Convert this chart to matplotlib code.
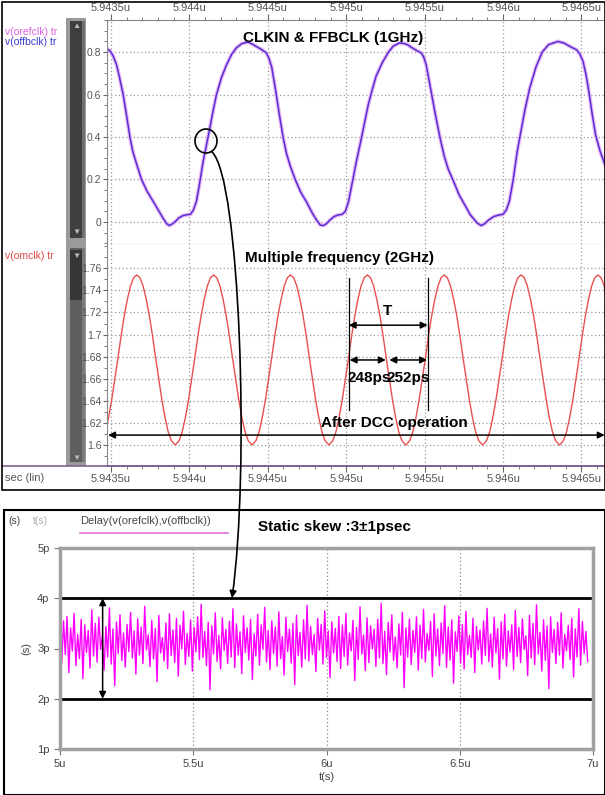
import numpy as np
import matplotlib
matplotlib.use('Agg')
import matplotlib.pyplot as plt
import matplotlib.font_manager as fm
from matplotlib.patches import Rectangle, Ellipse, FancyArrowPatch
from matplotlib.path import Path
from matplotlib.ticker import MultipleLocator

# fonts
names = {f.name for f in fm.fontManager.ttflist}
BOLD_FONT = 'Liberation Sans Narrow' if 'Liberation Sans Narrow' in names else 'Liberation Sans'
plt.rcParams['font.family'] = ['Liberation Sans', 'DejaVu Sans']

# ---- data: top panel (time in ns after 5.9435u) ----
x_ticks = [0.0, 0.5, 1.0, 1.5, 2.0, 2.5, 3.0]
x_labels = ['5.9435u', '5.944u', '5.9445u', '5.945u', '5.9455u', '5.946u', '5.9465u']

clk_t = [-0.025, -0.010, 0.000, 0.015, 0.036, 0.055, 0.078, 0.100, 0.121, 0.140,
         0.165, 0.195, 0.230, 0.270, 0.305, 0.333, 0.355, 0.372, 0.390, 0.408,
         0.435, 0.460, 0.485, 0.507, 0.525, 0.545, 0.565, 0.588, 0.610, 0.630,
         0.652, 0.673, 0.705, 0.737, 0.770, 0.800, 0.835, 0.874, 0.900, 0.930,
         0.960, 0.990, 1.005, 1.025, 1.050, 1.075, 1.100, 1.120, 1.145, 1.175,
         1.210, 1.250, 1.285, 1.310, 1.335, 1.355, 1.375, 1.395, 1.420, 1.445,
         1.475, 1.495, 1.515, 1.540, 1.565, 1.590, 1.615, 1.640, 1.665, 1.690,
         1.730, 1.770, 1.800, 1.840, 1.870, 1.890, 1.920, 1.950, 1.980, 1.995,
         2.010, 2.040, 2.070, 2.100, 2.125, 2.150, 2.185, 2.220, 2.260, 2.290,
         2.310, 2.335, 2.360, 2.380, 2.410, 2.440, 2.470, 2.500, 2.520, 2.540,
         2.565, 2.590, 2.610, 2.640, 2.670, 2.710, 2.750, 2.790, 2.850, 2.890,
         2.930, 2.970, 2.990, 3.010, 3.030, 3.050, 3.070, 3.090, 3.120, 3.150]
orefclk_v = [0.815, 0.808, 0.800, 0.780, 0.740, 0.680, 0.600, 0.500, 0.400, 0.330,
             0.270, 0.200, 0.145, 0.096, 0.052, 0.017, -0.008, -0.017, -0.010, 0.000,
             0.020, 0.030, 0.034, 0.036, 0.055, 0.096, 0.180, 0.285, 0.365, 0.440,
             0.525, 0.600, 0.680, 0.740, 0.790, 0.820, 0.840, 0.847, 0.838, 0.825,
             0.812, 0.797, 0.775, 0.730, 0.620, 0.500, 0.390, 0.320, 0.260, 0.200,
             0.140, 0.090, 0.040, 0.010, -0.015, -0.017, -0.008, 0.008, 0.024, 0.032,
             0.036, 0.050, 0.096, 0.190, 0.285, 0.370, 0.460, 0.550, 0.620, 0.685,
             0.750, 0.800, 0.828, 0.843, 0.840, 0.835, 0.820, 0.807, 0.795, 0.775,
             0.740, 0.620, 0.500, 0.390, 0.310, 0.250, 0.190, 0.127, 0.075, 0.035,
             0.017, -0.005, -0.017, -0.010, 0.010, 0.025, 0.032, 0.036, 0.055, 0.096,
             0.200, 0.330, 0.410, 0.530, 0.630, 0.730, 0.800, 0.835, 0.850, 0.842,
             0.825, 0.810, 0.790, 0.756, 0.690, 0.600, 0.500, 0.410, 0.330, 0.270]
# the two clocks lie on top of each other in the picture (3 ps skew)
offbclk_v = orefclk_v

# ---- data: 2GHz multiplied clock ----
omclk_t = [-0.025, -0.015, 0.005, 0.025, 0.045, 0.065, 0.085, 0.105, 0.125, 0.145,
           0.165, 0.185, 0.205, 0.225, 0.245, 0.265, 0.285, 0.305, 0.325, 0.345, 0.365, 0.385,
           0.410, 0.435, 0.455, 0.475, 0.495, 0.515, 0.535, 0.555, 0.575, 0.595, 0.615, 0.635,
           0.655, 0.675, 0.695, 0.715, 0.735, 0.755, 0.775, 0.795, 0.815, 0.835, 0.855, 0.875,
           0.900, 0.925, 0.945, 0.965, 0.985, 1.005, 1.025, 1.045, 1.065, 1.085, 1.105, 1.125,
           1.145, 1.165, 1.185, 1.205, 1.225, 1.245, 1.265, 1.285, 1.305, 1.325, 1.345, 1.365,
           1.390, 1.415, 1.435, 1.455, 1.475, 1.495, 1.515, 1.535, 1.555, 1.575, 1.595, 1.615,
           1.635, 1.655, 1.675, 1.695, 1.715, 1.735, 1.755, 1.775, 1.795, 1.815, 1.835, 1.855,
           1.880, 1.905, 1.925, 1.945, 1.965, 1.985, 2.005, 2.025, 2.045, 2.065, 2.085, 2.105,
           2.125, 2.145, 2.165, 2.185, 2.205, 2.225, 2.245, 2.265, 2.285, 2.305, 2.325, 2.345,
           2.370, 2.395, 2.415, 2.435, 2.455, 2.475, 2.495, 2.515, 2.535, 2.555, 2.575, 2.595,
           2.615, 2.635, 2.655, 2.675, 2.695, 2.715, 2.735, 2.755, 2.775, 2.795, 2.815, 2.835,
           2.860, 2.885, 2.905, 2.925, 2.945, 2.965, 2.985, 3.005, 3.025, 3.045, 3.065, 3.085,
           3.105, 3.125, 3.145, 3.165]
omclk_v = [1.618, 1.625, 1.641, 1.660, 1.679, 1.699, 1.717, 1.732, 1.744, 1.7515,
           1.754, 1.7515, 1.744, 1.732, 1.717, 1.699, 1.679, 1.660, 1.641, 1.625, 1.612, 1.604,
           1.600, 1.604, 1.612, 1.625, 1.641, 1.660, 1.679, 1.699, 1.717, 1.732, 1.744, 1.7515,
           1.754, 1.7515, 1.744, 1.732, 1.717, 1.699, 1.679, 1.660, 1.641, 1.625, 1.612, 1.604,
           1.600, 1.604, 1.612, 1.625, 1.641, 1.660, 1.679, 1.699, 1.717, 1.732, 1.744, 1.7515,
           1.754, 1.7515, 1.744, 1.732, 1.717, 1.699, 1.679, 1.660, 1.641, 1.625, 1.612, 1.604,
           1.600, 1.604, 1.612, 1.625, 1.641, 1.660, 1.679, 1.699, 1.717, 1.732, 1.744, 1.7515,
           1.754, 1.7515, 1.744, 1.732, 1.717, 1.699, 1.679, 1.660, 1.641, 1.625, 1.612, 1.604,
           1.600, 1.604, 1.612, 1.625, 1.641, 1.660, 1.679, 1.699, 1.717, 1.732, 1.744, 1.7515,
           1.754, 1.7515, 1.744, 1.732, 1.717, 1.699, 1.679, 1.660, 1.641, 1.625, 1.612, 1.604,
           1.600, 1.604, 1.612, 1.625, 1.641, 1.660, 1.679, 1.699, 1.717, 1.732, 1.744, 1.7515,
           1.754, 1.7515, 1.744, 1.732, 1.717, 1.699, 1.679, 1.660, 1.641, 1.625, 1.612, 1.604,
           1.600, 1.604, 1.612, 1.625, 1.641, 1.660, 1.679, 1.699, 1.717, 1.732, 1.744, 1.7515,
           1.754, 1.7515, 1.744, 1.732]

# ---- data: static skew (ps) from 5u to ~7u ----
skew_ps = [
    3.32, 2.71, 3.55, 2.88, 3.64, 2.52, 3.41, 2.95, 3.70, 2.66, 3.28, 2.80, 3.58, 2.40, 3.47, 2.92, 3.36, 2.61, 3.77, 2.85,
    3.50, 2.73, 3.62, 2.98, 3.25, 2.57, 3.44, 2.83, 3.81, 2.69, 3.39, 2.26, 3.53, 2.90, 3.67, 2.76, 3.31, 2.63, 3.48, 2.94,
    3.72, 2.81, 3.35, 2.49, 3.59, 2.87, 3.43, 2.70, 3.84, 2.97, 3.27, 2.64, 3.56, 2.79, 3.40, 2.34, 3.66, 2.91, 3.22, 2.75,
    3.51, 2.60, 3.69, 2.86, 3.37, 2.72, 3.60, 2.45, 3.46, 2.99, 3.74, 2.68, 3.30, 2.84, 3.57, 2.55, 3.42, 2.93, 3.63, 2.78,
    3.88, 2.82, 3.34, 2.66, 3.52, 2.18, 3.45, 2.89, 3.71, 2.74, 3.26, 2.59, 3.61, 2.96, 3.38, 2.70, 3.54, 2.83, 3.79, 2.62,
    3.49, 2.87, 3.33, 2.50, 3.65, 2.92, 3.41, 2.77, 3.58, 2.38, 3.29, 2.85, 3.68, 2.67, 3.47, 2.98, 3.82, 2.73, 3.36, 2.58,
    3.55, 2.90, 3.43, 2.65, 3.73, 2.80, 3.24, 2.47, 3.62, 2.94, 3.39, 2.71, 3.50, 2.28, 3.66, 2.86, 3.32, 2.63, 3.57, 2.79,
    3.86, 2.75, 3.44, 2.88, 3.28, 2.54, 3.60, 2.97, 3.48, 2.69, 3.75, 2.82, 3.35, 2.42, 3.53, 2.91, 3.40, 2.74, 3.64, 2.60,
    3.47, 2.84, 3.70, 2.67, 3.31, 2.95, 3.56, 2.36, 3.42, 2.78, 3.83, 2.89, 3.27, 2.56, 3.61, 2.72, 3.45, 2.99, 3.38, 2.64,
    3.58, 2.81, 3.90, 2.70, 3.34, 2.48, 3.52, 2.93, 3.67, 2.76, 3.23, 2.61, 3.49, 2.87, 3.72, 2.22, 3.41, 2.83, 3.59, 2.68,
    3.36, 2.92, 3.63, 2.57, 3.46, 2.80, 3.78, 2.73, 3.30, 2.96, 3.54, 2.44, 3.69, 2.85, 3.39, 2.66, 3.51, 2.90, 3.85, 2.62,
    3.43, 2.77, 3.57, 2.31, 3.33, 2.94, 3.65, 2.71, 3.48, 2.59, 3.74, 2.88, 3.26, 2.82, 3.60, 2.52, 3.44, 2.97, 3.37, 2.69,
    3.55, 2.86, 3.80, 2.74, 3.29, 2.63, 3.62, 2.91, 3.40, 2.39, 3.53, 2.79, 3.68, 2.65, 3.35, 2.93, 3.47, 2.58, 3.76, 2.84,
    3.42, 2.72, 3.59, 2.98, 3.25, 2.46, 3.66, 2.81, 3.50, 2.68, 3.87, 2.89, 3.32, 2.55, 3.57, 2.76, 3.45, 2.20, 3.63, 2.92,
    3.38, 2.70, 3.52, 2.87, 3.71, 2.61, 3.28, 2.95, 3.46, 2.78, 3.60, 2.43, 3.39, 2.83, 3.79, 2.67, 3.54, 2.90, 3.34, 2.74,
]
skew_t = np.linspace(5.0, 6.98, len(skew_ps))  # sample grid, u-seconds
skew_ticks = [1, 2, 3, 4, 5]
skew_labels = ['1p', '2p', '3p', '4p', '5p']
time_ticks = [5.0, 5.5, 6.0, 6.5, 7.0]
time_labels = ['5u', '5.5u', '6u', '6.5u', '7u']

W, H = 605, 795
fig = plt.figure(figsize=(W / 100, H / 100), dpi=100)


def fx(x):
    return x / W


def fy(y):
    return 1 - y / H


def box(l, t, r, b):
    return [fx(l), fy(b), (r - l) / W, (b - t) / H]


TICK_COL = '#555555'

# ---------------- top screenshot ----------------
ax1 = fig.add_axes(box(107, 20, 605, 244))
ax2 = fig.add_axes(box(107, 244, 605, 466))

for ax in (ax1, ax2):
    ax.set_xlim(-0.025, 3.15)
    ax.set_xticks(x_ticks)
    ax.xaxis.set_minor_locator(MultipleLocator(0.1))
    ax.grid(True, which='major', ls=(0, (1, 2)), color='#9a9a9a', lw=0.9)
    ax.tick_params(axis='both', which='major', length=4, color='#666666',
                   labelcolor=TICK_COL, labelsize=8)
    ax.tick_params(axis='both', which='minor', length=2.5, color='#666666')
    ax.tick_params(axis='y', which='major', length=3, pad=1, labelsize=7.5)
    ax.spines['right'].set_visible(False)
    ax.spines['left'].set_color('#8a8a8a')
    ax.spines['left'].set_linewidth(0.8)

ax1.set_ylim(-0.104, 0.951)
ax1.set_yticks([0, 0.2, 0.4, 0.6, 0.8])
ax1.set_yticklabels(['0', '0.2', '0.4', '0.6', '0.8'])
ax1.yaxis.set_minor_locator(MultipleLocator(0.05))
ax1.xaxis.tick_top()
ax1.set_xticklabels(x_labels)
ax1.tick_params(axis='x', which='both', top=True, bottom=False, labeltop=True,
                labelbottom=False, pad=1)
ax1.spines['top'].set_color('#888888')
ax1.spines['top'].set_linewidth(0.8)
ax1.spines['bottom'].set_color('#555555')

ax1.plot(clk_t, orefclk_v, color='#f2b4f2', lw=2.8, solid_joinstyle='round')
ax1.plot(clk_t, offbclk_v, color='#4a34d6', lw=1.1, solid_joinstyle='round')
ax1.text(1.414, 0.866, 'CLKIN & FFBCLK (1GHz)', ha='center', va='center',
         fontsize=11, fontweight='bold', family=[BOLD_FONT, 'DejaVu Sans'])

ax2.set_ylim(1.581, 1.782)
ax2.set_yticks([1.6, 1.62, 1.64, 1.66, 1.68, 1.7, 1.72, 1.74, 1.76])
ax2.set_yticklabels(['1.6', '1.62', '1.64', '1.66', '1.68', '1.7', '1.72', '1.74', '1.76'])
ax2.yaxis.set_minor_locator(MultipleLocator(0.01))
ax2.set_xticklabels(x_labels)
ax2.tick_params(axis='x', which='both', pad=2)
ax2.spines['top'].set_visible(False)
ax2.spines['bottom'].set_color('#806090')
ax2.spines['bottom'].set_linewidth(1.2)

ax2.plot(omclk_t, omclk_v, color='#e85050', lw=1.0, solid_joinstyle='round')

bold = dict(fontweight='bold', family=[BOLD_FONT, 'DejaVu Sans'], color='k')
ax2.text(1.459, 1.769, 'Multiple frequency (2GHz)', ha='center', va='center', fontsize=11, **bold)
ax2.text(1.764, 1.721, 'T', ha='center', va='center', fontsize=11, **bold)
ax2.text(1.648, 1.661, '248ps', ha='center', va='center', fontsize=11, **bold)
ax2.text(1.898, 1.661, '252ps', ha='center', va='center', fontsize=11, **bold)
ax2.text(1.809, 1.620, 'After DCC operation', ha='center', va='center', fontsize=11, **bold)
for tx in (1.516, 2.019):
    ax2.plot([tx, tx], [1.632, 1.751], color='k', lw=0.9)
arr = dict(arrowstyle='<|-|>', color='k', lw=1.1, shrinkA=0, shrinkB=0, mutation_scale=10)
ax2.annotate('', xy=(2.019, 1.7085), xytext=(1.516, 1.7085), arrowprops=arr)
ax2.annotate('', xy=(1.752, 1.677), xytext=(1.522, 1.677), arrowprops=arr)
ax2.annotate('', xy=(2.015, 1.677), xytext=(1.775, 1.677), arrowprops=arr)
ax2.annotate('', xy=(3.148, 1.609), xytext=(-0.018, 1.609), arrowprops=arr,
             annotation_clip=False)

# signal names on the left (partly hidden by the scroll bar)
fig.text(fx(5), fy(32), 'v(orefclk) tr', color='#e060e0', fontsize=7.5, va='center', zorder=-3)
fig.text(fx(5), fy(42), 'v(offbclk) tr', color='#3a3ad0', fontsize=7.5, va='center', zorder=-3)
fig.text(fx(5), fy(256), 'v(omclk) tr', color='#e04848', fontsize=7.5, va='center', zorder=-3)
fig.text(fx(5), fy(478), 'sec (lin)', color=TICK_COL, fontsize=8, va='center')

# scroll bars, drawn under the axes so the tick labels stay readable
for (l, t, r, b, c) in [(66, 18, 86, 466, '#9a9a9a'), (70, 21, 82, 238, '#3e3e3e'),
                        (82, 21, 85, 238, '#707070'), (70, 248, 82, 462, '#5e5e5e'),
                        (82, 248, 85, 462, '#7a7a7a'), (70, 250, 82, 300, '#363636')]:
    fig.add_artist(Rectangle((fx(l), fy(b)), (r - l) / W, (b - t) / H, transform=fig.transFigure,
                             fc=c, ec='none', zorder=-2))
for (y, s) in [(26, '▲'), (232, '▼'), (256, '▼'), (458, '▼')]:
    fig.text(fx(76), fy(y), s, color='#bbbbbb', fontsize=6, ha='center', va='center', zorder=-1)

# frame lines of the screenshot
fig.add_artist(Rectangle((fx(2), fy(490)), 603 / W, 488 / H, transform=fig.transFigure,
                         fill=False, ec='k', lw=1.2, zorder=7))
fig.add_artist(plt.Line2D([fx(2), fx(605)], [fy(466), fy(466)], transform=fig.transFigure,
                          color='#806090', lw=1.2, zorder=4))

# ---------------- bottom screenshot ----------------
fig.add_artist(Rectangle((fx(4), fy(795)), 601 / W, 285 / H, transform=fig.transFigure,
                         fill=False, ec='k', lw=1.5, zorder=7))
fig.text(fx(8), fy(521), '(s)', color='#444444', fontsize=7.5, va='center')
fig.text(fx(33), fy(521), 't(s)', color='#aaaaaa', fontsize=7.5, va='center')
fig.text(fx(80), fy(521), 'Delay(v(orefclk),v(offbclk))', color='#444444', fontsize=8, va='center')
fig.add_artist(plt.Line2D([fx(80), fx(228)], [fy(533), fy(533)], transform=fig.transFigure,
                          color='#e070e0', lw=1.2))
fig.text(fx(258), fy(527), 'Static skew :3±1psec', fontsize=11, va='center', **bold)

ax3 = fig.add_axes(box(60, 548, 593, 749))
ax3.set_xlim(5, 7)
ax3.set_ylim(1, 5)
ax3.set_xticks(time_ticks)
ax3.set_xticklabels(time_labels)
ax3.set_yticks(skew_ticks)
ax3.set_yticklabels(skew_labels)
ax3.tick_params(length=4, color='#777777', labelcolor='#444444', labelsize=8)
for sp in ax3.spines.values():
    sp.set_color('#a0a0a0')
    sp.set_linewidth(2.5)
ax3.xaxis.grid(True, ls=(0, (1, 2)), color='#888888', lw=0.9)
ax3.set_xlabel('t(s)', fontsize=8, color='#444444', labelpad=2)
ax3.set_ylabel('(s)', fontsize=8, color='#444444', labelpad=4)

ax3.plot(skew_t, skew_ps, color='#ff00ff', lw=1.0)
ax3.axhline(4, color='k', lw=2)
ax3.axhline(2, color='k', lw=2)
ax3.annotate('', xy=(5.16, 2.0), xytext=(5.16, 4.0),
             arrowprops=dict(arrowstyle='<|-|>', color='k', lw=1.1, shrinkA=0, shrinkB=0,
                             mutation_scale=10))

# circle marker and connector between the two screenshots
fig.add_artist(Ellipse((fx(206), fy(141)), 22 / W, 24 / H, transform=fig.transFigure,
                       fill=False, ec='k', lw=1.2, zorder=8))
pts = [(212, 152), (240, 178), (250, 470), (232, 598)]
conn = Path([(fx(x), fy(y)) for x, y in pts],
            [Path.MOVETO, Path.CURVE4, Path.CURVE4, Path.CURVE4])
fig.add_artist(FancyArrowPatch(path=conn, arrowstyle='-|>', mutation_scale=10, color='k',
                               lw=1.2, transform=fig.transFigure, zorder=8))

fig.savefig('out.png', dpi=100)
